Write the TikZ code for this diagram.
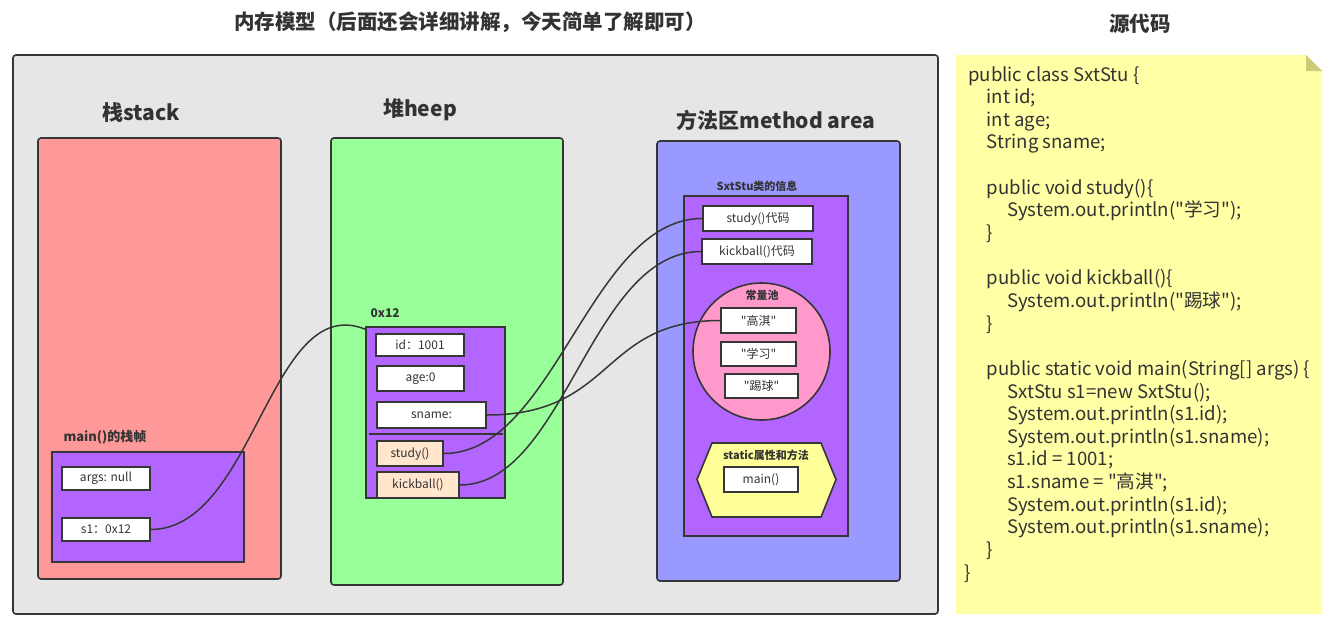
\documentclass[tikz,border=0pt]{standalone}
\usepackage{fontspec}
\setmainfont{Noto Sans CJK SC}
\newfontfamily\cjk{Noto Sans CJK SC}
\definecolor{bord}{HTML}{363636}
\definecolor{txt}{HTML}{333333}
\definecolor{bggray}{HTML}{E6E6E6}
\definecolor{stackred}{HTML}{FF9999}
\definecolor{heapgreen}{HTML}{99FF99}
\definecolor{methblue}{HTML}{9999FF}
\definecolor{purp}{HTML}{B266FF}
\definecolor{pinkc}{HTML}{FF99CC}
\definecolor{yel}{HTML}{FFFF99}
\definecolor{notey}{HTML}{FFFFA6}
\definecolor{fold}{HTML}{CCCC77}
\definecolor{peach}{HTML}{FFE6CC}
\tikzset{
  area/.style={draw=bord, line width=1.6pt, rounded corners=3pt, inner sep=0pt},
  frame/.style={draw=bord, line width=1.6pt, inner sep=0pt},
  cell/.style={draw=bord, line width=1.6pt, fill=white, inner sep=0pt, text=txt,
    font=\fontsize{12}{14}\selectfont},
  head/.style={text=txt, font=\bfseries\fontsize{21}{24}\selectfont},
  small/.style={text=txt, font=\bfseries\fontsize{11}{13}\selectfont},
  link/.style={draw=bord, line width=1.5pt},
  codeln/.style={anchor=base west, inner sep=0pt, text=txt, font=\cjk\fontsize{18.6}{22}\selectfont}
}
\begin{document}
\begin{tikzpicture}[x=1pt,y=-1pt]
\useasboundingbox (0,0) rectangle (1331,627);
\fill[white] (0,0) rectangle (1331,627);

% titles
\node[head, font=\bfseries\fontsize{20.5}{24}\selectfont] (title) at (470,22) {内存模型（后面还会详细讲解，今天简单了解即可）};
\node[head, font=\bfseries\fontsize{20.5}{24}\selectfont] (srctitle) at (1140,24) {源代码};

% big gray area
\node[area, fill=bggray, minimum width=925pt, minimum height=559pt] (mem) at (475.5,334.5) {};

% section headings
\node[head] (hstack) at (141,113) {栈stack};
\node[head] (hheap) at (420,110) {堆heep};
\node[head] (hmeth) at (776,120) {方法区method area};

% stack
\node[area, fill=stackred, minimum width=243pt, minimum height=441pt] (stack) at (159.5,358.5) {};
\node[small, font=\bfseries\fontsize{13}{15}\selectfont, anchor=west] (mainlbl) at (60,437) {main()的栈帧};
\node[frame, fill=purp, minimum width=192pt, minimum height=110pt] (mainframe) at (148,507) {};
\node[cell, minimum width=88pt, minimum height=23pt] (args) at (106,478.5) {args: null};
\node[cell, minimum width=88pt, minimum height=23pt] (s1) at (106,529.5) {s1：0x12};

% heap
\node[area, fill=heapgreen, minimum width=232pt, minimum height=447pt] (heap) at (447,361.5) {};
\node[small, font=\bfseries\fontsize{12}{14}\selectfont, anchor=west] (addr) at (367,313) {0x12};
\node[frame, fill=purp, minimum width=139pt, minimum height=171pt] (obj) at (435.5,412.5) {};
\node[cell, minimum width=88pt, minimum height=22pt] (id) at (420,345) {id：1001};
\node[cell, minimum width=87pt, minimum height=25pt] (age) at (420.5,378.5) {age:0};
\node[cell, minimum width=109pt, minimum height=26pt] (sname) at (431.5,415) {sname:};
\coordinate (sepL) at (369,434);
\coordinate (sepR) at (503,434);
\draw[link, line width=1.6pt] (sepL) -- (sepR);
\node[cell, fill=peach, minimum width=66pt, minimum height=25pt] (study) at (410,453.5) {study()};
\node[cell, fill=peach, minimum width=82pt, minimum height=26pt] (kick) at (418,485) {kickball()};

% method area
\node[area, fill=methblue, minimum width=243pt, minimum height=440pt] (meth) at (778.5,361) {};
\node[small] (clslbl) at (757,186) {SxtStu类的信息};
\node[frame, fill=purp, minimum width=164pt, minimum height=340pt] (cls) at (766,366) {};
\node[cell, minimum width=110pt, minimum height=25pt] (studyc) at (758,218.5) {study()代码};
\node[cell, minimum width=110pt, minimum height=25pt] (kickc) at (757,251.5) {kickball()代码};
\node[circle, draw=bord, line width=1.6pt, fill=pinkc, minimum size=137pt, inner sep=0pt] (pool) at (761.5,351.5) {};
\node[small] (poollbl) at (762,295) {常量池};
\node[cell, font=\cjk\fontsize{12}{14}\selectfont, minimum width=75pt, minimum height=25pt] (gaoqi) at (758.5,320.5) {"高淇"};
\node[cell, font=\cjk\fontsize{12}{14}\selectfont, minimum width=75pt, minimum height=24pt] (xuexi) at (758.5,354) {"学习"};
\node[cell, font=\cjk\fontsize{12}{14}\selectfont, minimum width=73pt, minimum height=24pt] (tiqiu) at (761.5,386) {"踢球"};
\coordinate (hexc) at (766,480);
\draw[draw=bord, line width=1.6pt, fill=yel]
  (712,443) -- (821,443) -- (836,479.5) -- (821,517) -- (712,517) -- (697,479.5) -- cycle;
\node[small] (staticlbl) at (766,455) {static属性和方法};
\node[cell, minimum width=74pt, minimum height=25pt] (mainm) at (761,479.5) {main()};

% connectors
\draw[link] (s1.east) .. controls (255,529) and (270,291) .. ([yshift=-3pt]obj.north west);
\draw[link] (sname.east) .. controls (615,415) and (600,320.5) .. (gaoqi.west);
\draw[link] (study.east) .. controls (555,453.5) and (590,218.5) .. (studyc.west);
\draw[link] (kick.east) .. controls (565,485) and (590,251.5) .. (kickc.west);

% code note
\fill[notey] (956,55) -- (1306,55) -- (1322,71) -- (1322,614) -- (956,614) -- cycle;
\fill[fold] (1306,55) -- (1306,71) -- (1322,71) -- cycle;
\node[codeln] (c0) at (968,81) {public class SxtStu \{};
\node[codeln] (c1) at (986.5,103.6) {int id;};
\node[codeln] (c2) at (986.5,126.3) {int age;};
\node[codeln] (c3) at (986.5,148.9) {String sname;};
\node[codeln] (c5) at (986.5,194.2) {public void study()\{};
\node[codeln] (c6) at (1007,216.8) {System.out.println("学习");};
\node[codeln] (c7) at (986.5,239.5) {\}};
\node[codeln] (c9) at (986.5,284.8) {public void kickball()\{};
\node[codeln] (c10) at (1007,307.4) {System.out.println("踢球");};
\node[codeln] (c11) at (986.5,330.0) {\}};
\node[codeln] (c13) at (986.5,375.3) {public static void main(String[] args) \{};
\node[codeln] (c14) at (1007,398.0) {SxtStu s1=new SxtStu();};
\node[codeln] (c15) at (1007,420.6) {System.out.println(s1.id);};
\node[codeln] (c16) at (1007,443.2) {System.out.println(s1.sname);};
\node[codeln] (c17) at (1007,465.9) {s1.id = 1001;};
\node[codeln] (c18) at (1007,488.5) {s1.sname = "高淇";};
\node[codeln] (c19) at (1007,511.2) {System.out.println(s1.id);};
\node[codeln] (c20) at (1007,533.8) {System.out.println(s1.sname);};
\node[codeln] (c21) at (986.5,556.4) {\}};
\node[codeln] (c22) at (964,579.1) {\}};
\end{tikzpicture}
\end{document}
